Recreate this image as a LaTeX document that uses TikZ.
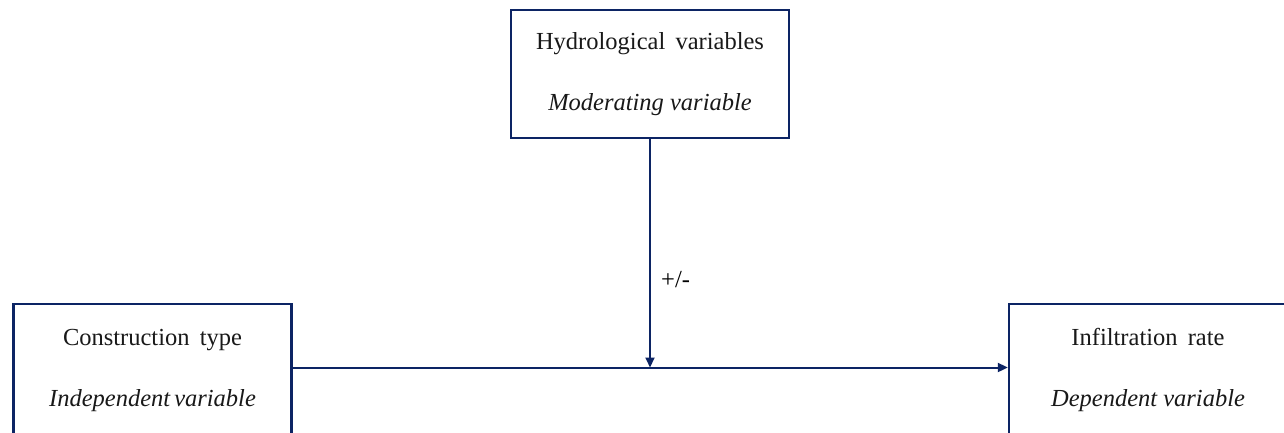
\documentclass[tikz,border=0pt]{standalone}
\usepackage{fontspec}
\setmainfont{Liberation Serif}
\usetikzlibrary{arrows.meta}
\definecolor{navy}{RGB}{12,36,100}
\begin{document}
\begin{tikzpicture}[x=1pt,y=1pt,
  varbox/.style={draw=navy,line width=2.4pt,minimum width=278pt,
    inner sep=0pt,align=center,font=\fontsize{24.5}{60}\selectfont,text=black!90},
  conn/.style={draw=navy,line width=2pt,-{Triangle[length=10pt,width=9pt]}}]
\useasboundingbox (0,0) rectangle (1284,-432);
\clip (0,0) rectangle (1284,-432);
\fill[white] (0,0) rectangle (1284,-432);
\node[varbox,minimum height=128pt] (hyd) at (650,-74) {Hydrological\, variables\\[1pt]\textit{Moderating variable}};
\node[varbox,minimum height=132pt] (con) at (152.5,-370) {Construction\, type\\[1pt]\textit{Independent\,variable}};
\node[varbox,minimum height=132pt] (inf) at (1148,-370) {Infiltration\, rate\\[1pt]\textit{Dependent variable}};
\coordinate (mid) at (650,-367.5);
\draw[conn] (con.east |- mid) -- (inf.west |- mid);
\draw[conn] (hyd.south) -- (mid);
\node[anchor=west,font=\fontsize{24.5}{30}\selectfont,inner sep=0pt] (pm) at (661,-280) {+/-};
\end{tikzpicture}
\end{document}
